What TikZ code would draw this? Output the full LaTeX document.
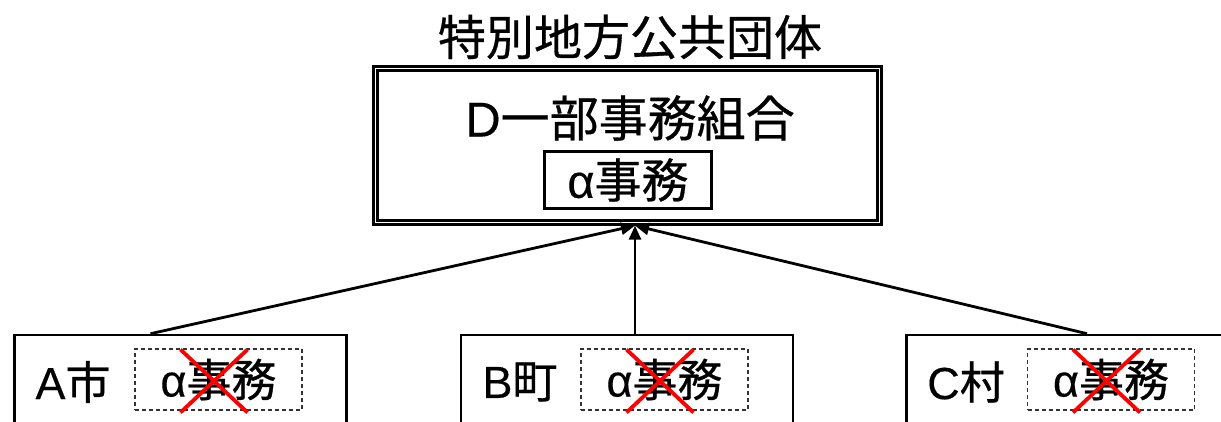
\documentclass[tikz,border=0pt]{standalone}
\usepackage{fontspec}
\setmainfont{Noto Sans CJK JP}[FakeBold=0.6]
\newfontfamily\latf{Liberation Sans}[FakeBold=0.3]
\usetikzlibrary{arrows.meta,calc}
\begin{document}
\begin{tikzpicture}[x=1pt,y=-1pt,
  bigtxt/.style={inner sep=0pt,font=\fontsize{48}{52}\selectfont},
  midtxt/.style={inner sep=0pt,font=\fontsize{45}{50}\selectfont},
  unitbox/.style={draw,line width=2.6pt,minimum width=332pt,minimum height=125pt,inner sep=0pt},
  dashbox/.style={draw=black!80,line width=1.4pt,dash pattern=on 4pt off 3pt,minimum width=167pt,minimum height=61pt,inner sep=0pt},
  conn/.style={line width=2.8pt,-{Triangle[length=14pt,width=12pt]}},
  redx/.style={draw=red,line width=3.8pt}
]
\useasboundingbox (0,0) rectangle (1221,422);
\clip (0,0) rectangle (1221,422);

% top
\node[bigtxt] (title) at (630,37) {特別地方公共団体};
\node[draw,double,line width=2.3pt,double distance=1.5pt,minimum width=504pt,minimum height=154pt,inner sep=0pt] (D) at (627.5,145.5) {};
\node[inner sep=0pt,font=\fontsize{49}{53}\selectfont] (Dname) at (630,118) {{\latf D}一部事務組合};
\node[draw,line width=3.4pt,minimum width=167pt,minimum height=57pt,inner sep=0pt,font=\fontsize{47}{51}\selectfont] (Dwork) at (628,180) {{\latf α}事務};

% bottom boxes
\node[unitbox] (A) at (180.5,397.5) {};
\node[unitbox] (B) at (627,397.5) {};
\node[unitbox] (C) at (1072.5,397.5) {};

\node[midtxt] (Aname) at (73,382) {{\latf A}市};
\node[midtxt] (Bname) at (520,382) {{\latf B}町};
\node[midtxt] (Cname) at (966,382) {{\latf C}村};

\node[dashbox,midtxt] (Aw) at (218.5,379.5) {{\latf α}事務};
\node[dashbox,midtxt] (Bw) at (664.5,379.5) {{\latf α}事務};
\node[dashbox,midtxt] (Cw) at (1111,379.5) {{\latf α}事務};

\foreach \n in {Aw,Bw,Cw}{
  \draw[redx] ($(\n.center)+(-38,-30)$) -- ($(\n.center)+(29,33)$);
  \draw[redx] ($(\n.center)+(29,-30)$) -- ($(\n.center)+(-38,33)$);
}

% connectors
\coordinate (tip) at ($(D.south)+(7.5,2)$);
\coordinate (As) at ($(A.north)+(-30,0)$);
\coordinate (Bs) at ($(B.north)+(8,0)$);
\coordinate (Cs) at ($(C.north)+(14.5,0)$);
\draw[conn] (As) -- (tip);
\draw[conn] (Bs) -- (tip);
\draw[conn] (Cs) -- (tip);
\end{tikzpicture}
\end{document}
